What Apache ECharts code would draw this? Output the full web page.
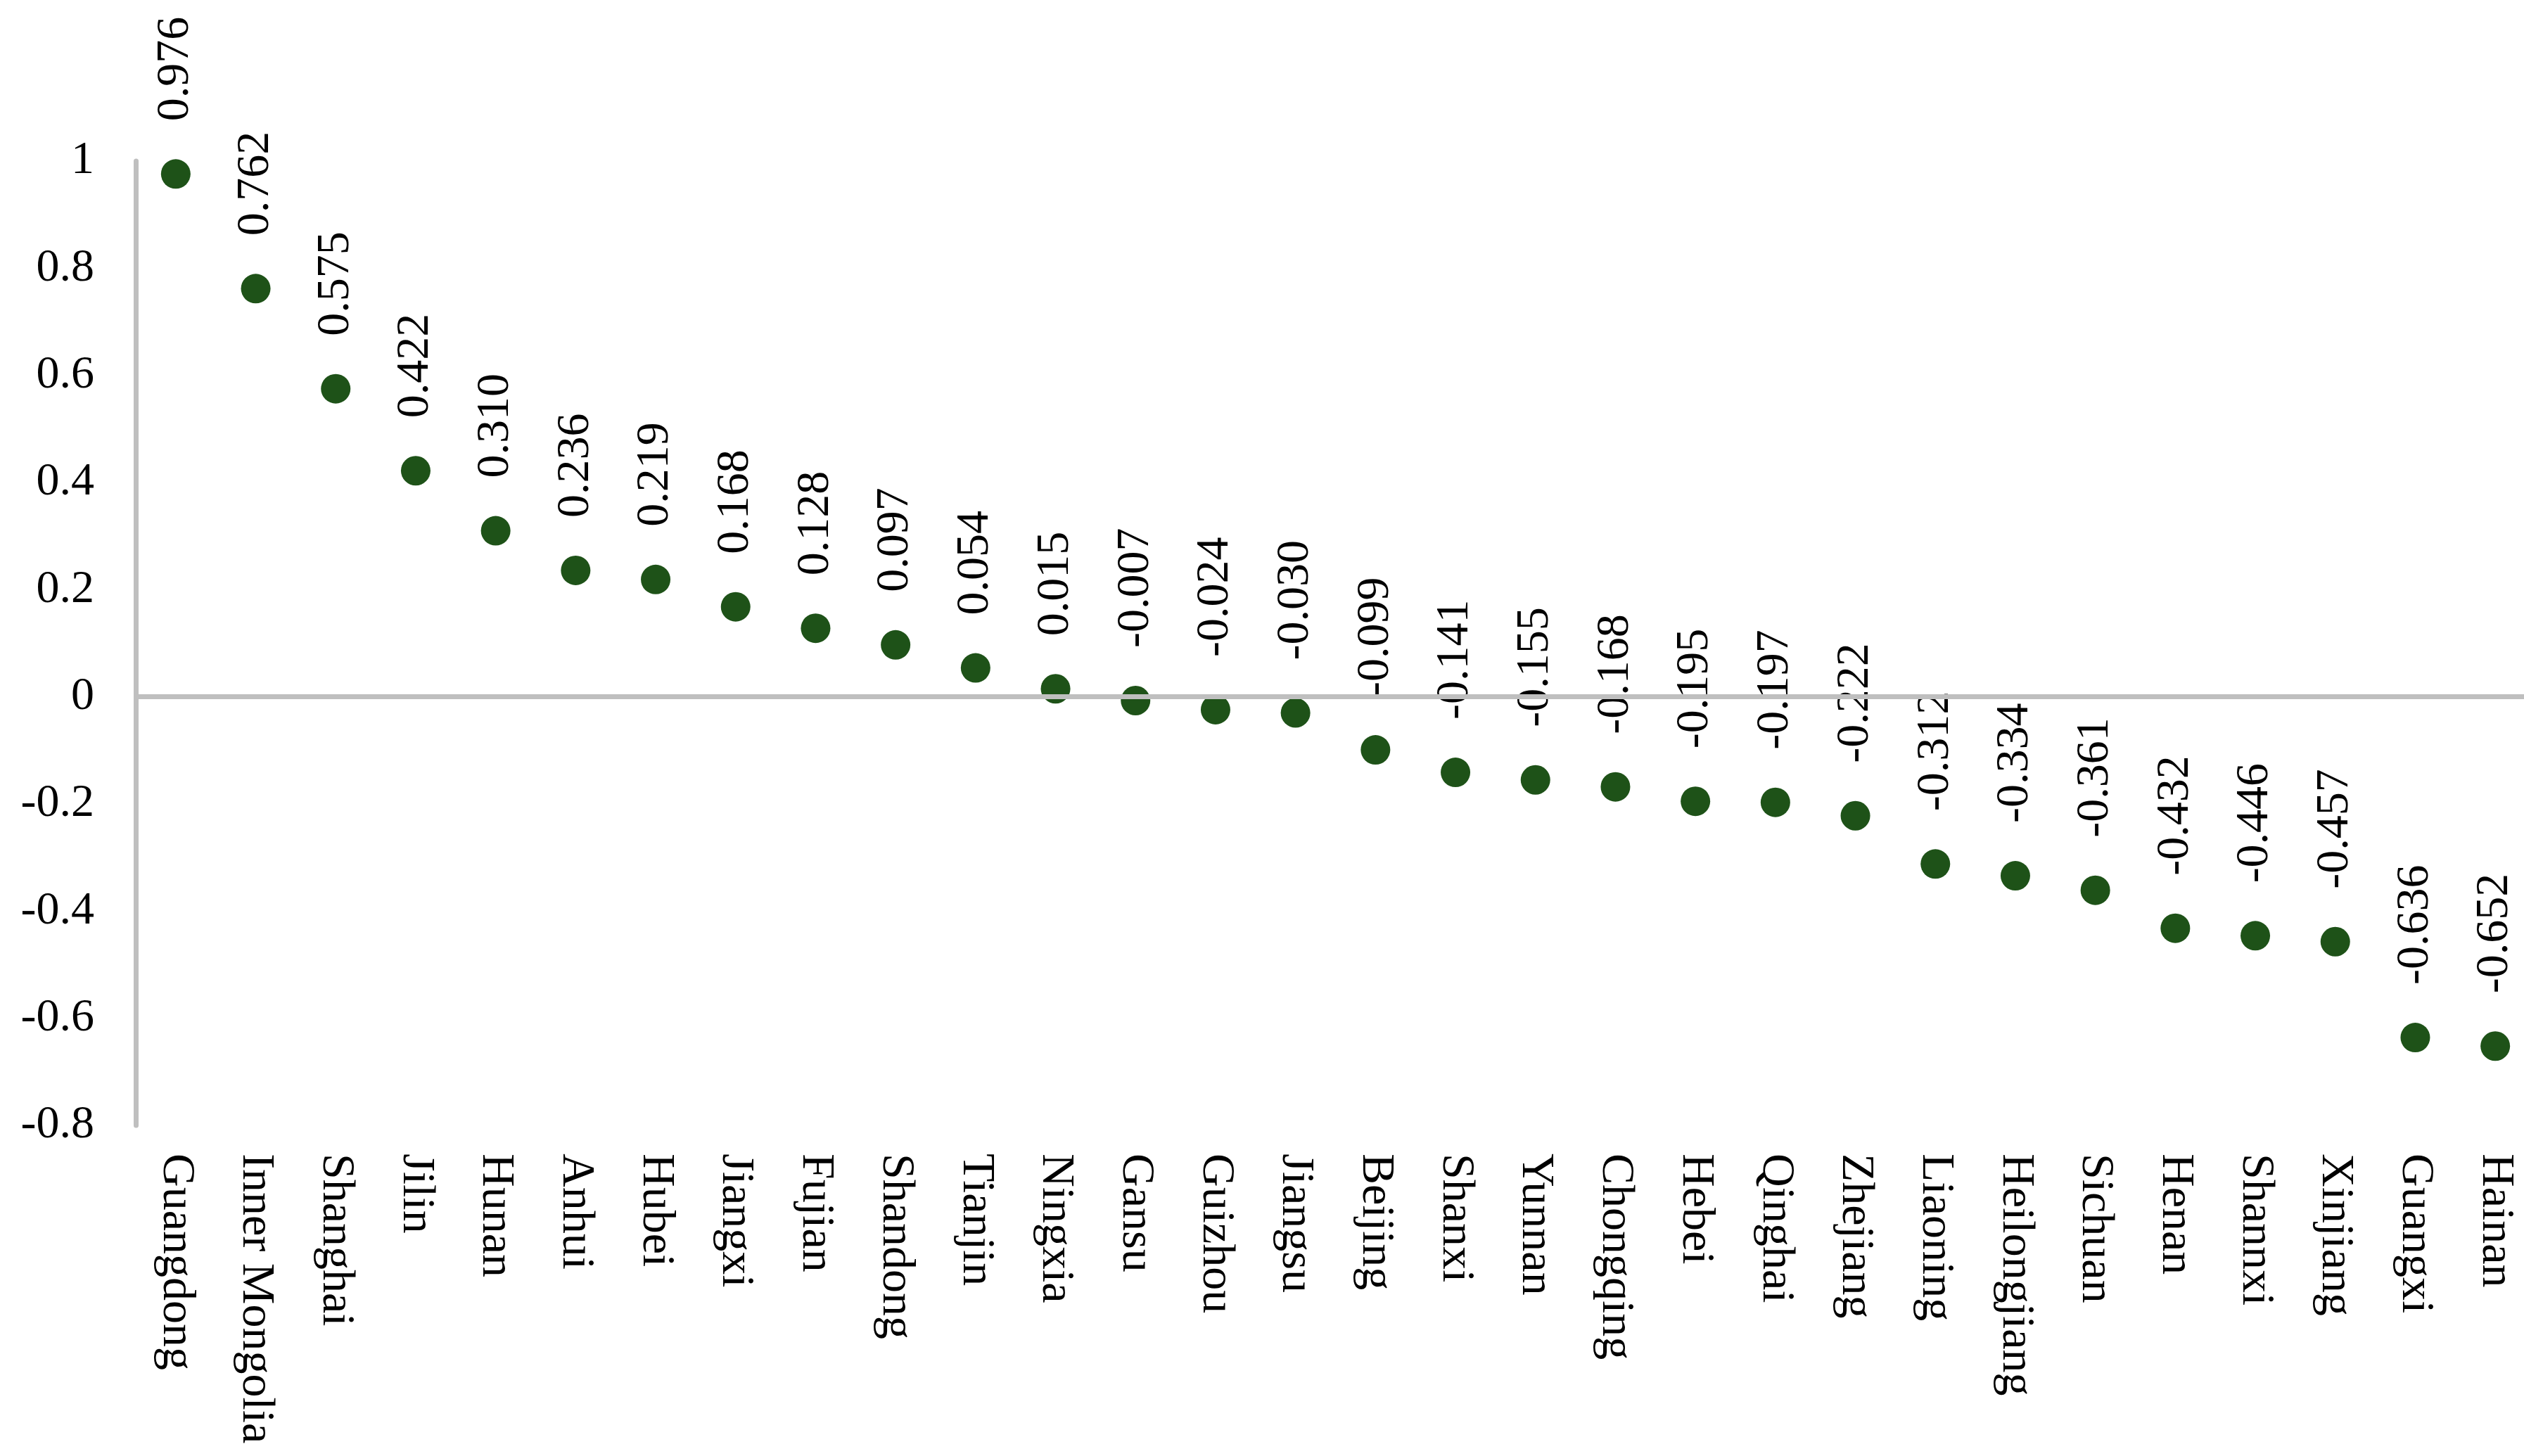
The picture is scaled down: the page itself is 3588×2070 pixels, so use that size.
<!DOCTYPE html>
<html>
<head>
<meta charset="utf-8">
<script src="https://cdn.jsdelivr.net/npm/echarts@6/dist/echarts.min.js"></script>
<style>
  html, body { margin: 0; padding: 0; background: #fff; }
  #chart { width: 3588px; height: 2070px; }
</style>
</head>
<body>
<div id="chart"></div>
<script>
const provinces = [
  'Guangdong', 'Inner Mongolia', 'Shanghai', 'Jilin', 'Hunan', 'Anhui', 'Hubei', 'Jiangxi',
  'Fujian', 'Shandong', 'Tianjin', 'Ningxia', 'Gansu', 'Guizhou', 'Jiangsu', 'Beijing',
  'Shanxi', 'Yunnan', 'Chongqing', 'Hebei', 'Qinghai', 'Zhejiang', 'Liaoning', 'Heilongjiang',
  'Sichuan', 'Henan', 'Shannxi', 'Xinjiang', 'Guangxi', 'Hainan',
]
const scores = [
  0.976, 0.762, 0.575, 0.422, 0.310, 0.236, 0.219, 0.168,
  0.128, 0.097, 0.054, 0.015, -0.007, -0.024, -0.030, -0.099,
  -0.141, -0.155, -0.168, -0.195, -0.197, -0.222, -0.312, -0.334,
  -0.361, -0.432, -0.446, -0.457, -0.636, -0.652,
]

const DOT_COLOR = '#1E5218'
const AXIS_COLOR = '#BFBFBF'
const FONT = 'Liberation Serif'

const chart = echarts.init(document.getElementById('chart'))
chart.setOption({
  animation: false,
  textStyle: { fontFamily: FONT },
  grid: {
    left: 193,
    top: 229,
    width: 3411,
    height: 1371,
    containLabel: false,
    outerBoundsMode: 'none',
  },
  xAxis: {
    type: 'category',
    data: provinces,
    axisLine: { show: false, onZero: false },
    axisTick: { show: false },
    axisLabel: {
      interval: 0,
      rotate: -90,
      margin: 40,
      color: '#000',
      fontSize: 66,
      fontFamily: FONT,
    },
    splitLine: { show: false },
  },
  yAxis: {
    type: 'value',
    min: -0.8,
    max: 1,
    interval: 0.2,
    axisLine: {
      show: true,
      lineStyle: { color: AXIS_COLOR, width: 7 },
    },
    axisTick: { show: false },
    splitLine: { show: false },
    axisLabel: {
      margin: 59,
      color: '#000',
      fontSize: 66,
      fontFamily: FONT,
      formatter: (value) => String(Math.round(value * 10) / 10),
    },
  },
  series: [
    {
      // zero line, kept under the dots
      type: 'line',
      data: [],
      z: 1,
      silent: true,
      markLine: {
        silent: true,
        symbol: 'none',
        label: { show: false },
        lineStyle: { color: AXIS_COLOR, width: 7, type: 'solid' },
        data: [{ yAxis: 0 }],
      },
    },
    {
      type: 'scatter',
      z: 3,
      data: scores,
      symbol: 'circle',
      symbolSize: 42,
      itemStyle: { color: DOT_COLOR, opacity: 1 },
      label: {
        show: true,
        position: 'top',
        distance: 48,
        offset: [6, 0],
        rotate: 90,
        align: 'left',
        verticalAlign: 'middle',
        color: '#000',
        opacity: 1,
        fontSize: 66,
        fontFamily: FONT,
        formatter: (p) => p.value.toFixed(3),
      },
    },
  ],
})
</script>
</body>
</html>
